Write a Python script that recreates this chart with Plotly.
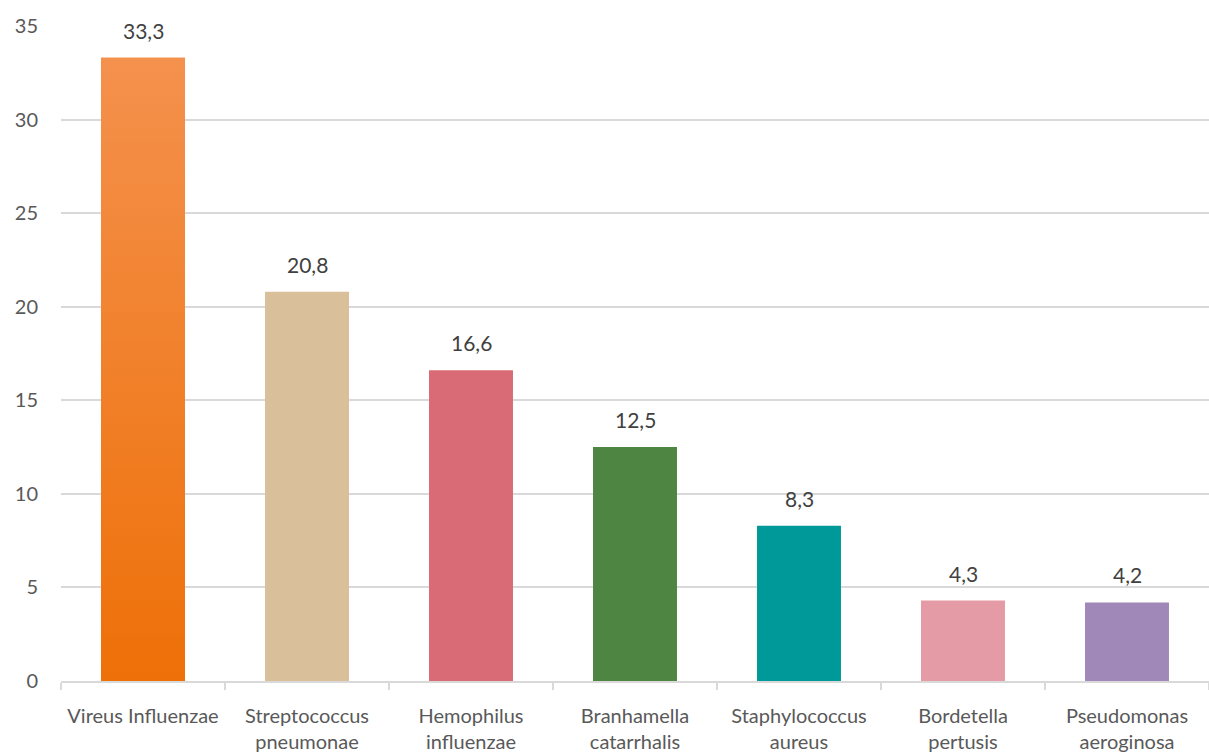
import plotly.graph_objects as go

categories = ["Vireus Influenzae", "Streptococcus<br>pneumonae", "Hemophilus<br>influenzae",
              "Branhamella<br>catarrhalis", "Staphylococcus<br>aureus", "Bordetella<br>pertusis",
              "Pseudomonas<br>aeroginosa"]
values = [33.3, 20.8, 16.6, 12.5, 8.3, 4.3, 4.2]
colors = ["#F18031", "#D9C09B", "#D96B76", "#4E8542", "#009999", "#E59BA5", "#A088B8"]
y_ticks = [0, 5, 10, 15, 20, 25, 30, 35]

BAR_W = 0.512
FONT = "Lato"
xs = list(range(len(categories)))

fig = go.Figure()
fig.add_trace(go.Bar(
    x=xs, y=values, width=BAR_W, marker=dict(color=colors, line=dict(width=0)),
    hoverinfo="skip",
))
# gradient overlay for the first bar
x0 = xs[0]
v0 = values[0]
fig.add_trace(go.Scatter(
    x=[x0 - BAR_W / 2, x0 + BAR_W / 2, x0 + BAR_W / 2, x0 - BAR_W / 2, x0 - BAR_W / 2],
    y=[0, 0, v0, v0, 0], mode="lines", line=dict(width=0), fill="toself",
    fillgradient=dict(type="vertical", colorscale=[[0, "#EE7008"], [1, "#F4914D"]]),
    hoverinfo="skip", showlegend=False,
))

for x, v in zip(xs, values):
    fig.add_annotation(
        x=x, y=v, text=f"{v:.1f}".replace(".", ","), showarrow=False,
        yanchor="bottom", yshift=13,
        font=dict(family=FONT, size=21, color="#404040"),
    )

fig.update_layout(
    width=1209, height=756,
    margin=dict(l=61, r=0, t=26, b=75),
    plot_bgcolor="white", paper_bgcolor="white",
    showlegend=False, separators=",.",
    xaxis=dict(
        range=[-0.5, 6.5], tickmode="array", tickvals=xs, ticktext=categories,
        showgrid=False, zeroline=False, ticks="", showline=True,
        linecolor="#D9D9D9", linewidth=2, ticklabelstandoff=16,
        tickfont=dict(family=FONT, size=20, color="#595959"),
        minor=dict(tick0=-0.5, dtick=1, ticks="outside", ticklen=7, tickcolor="#D9D9D9",
                   tickwidth=2, showgrid=False),
    ),
    yaxis=dict(
        range=[0, 35], tickmode="array", tickvals=y_ticks,
        showgrid=True, gridcolor="#D9D9D9", gridwidth=1.5, zeroline=False,
        showline=False, ticks="", ticklabelstandoff=22,
        tickfont=dict(family=FONT, size=20, color="#595959"),
    ),
)

fig.write_html("out.html")
